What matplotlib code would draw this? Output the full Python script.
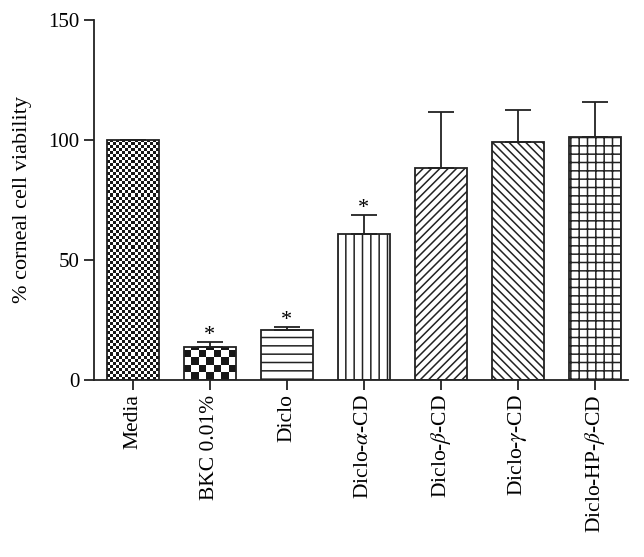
import numpy as np
import matplotlib
import matplotlib.pyplot as plt

plt.rcParams['font.family'] = ['Liberation Serif', 'DejaVu Serif']
plt.rcParams['mathtext.fontset'] = 'stix'
plt.rcParams['hatch.linewidth'] = 1.1

# ---- data
groups = ['Media', 'BKC 0.01%', 'Diclo', r'Diclo-$\alpha$-CD', r'Diclo-$\beta$-CD',
          r'Diclo-$\gamma$-CD', r'Diclo-HP-$\beta$-CD']
viability = [100.0, 13.5, 20.8, 60.8, 88.3, 99.3, 101.1]
sem = [0.0, 2.3, 1.2, 8.0, 23.4, 13.2, 14.6]
signif = [False, True, True, True, False, False, False]
hatches = [None, None, '--', '||', '////', '\\\\\\\\', '++']

fig = plt.figure(figsize=(6.44, 5.57), dpi=100)
ax = fig.add_axes([0.146, 0.318, 0.829, 0.646])

x = np.arange(len(groups))
bars = ax.bar(x, viability, width=0.675, color='white', edgecolor='#222222',
              linewidth=1.3, zorder=2)
for b, h in zip(bars, hatches):
    if h:
        b.set_hatch(h)
    else:
        b.set_facecolor('none')

ax.set_xlim(-0.506, 6.43)
ax.set_ylim(0, 150)

# pixels per data unit, to get square checker cells
ppx = ax.transData.transform((1, 0))[0] - ax.transData.transform((0, 0))[0]
ppy = ax.transData.transform((0, 1))[1] - ax.transData.transform((0, 0))[1]

def checker(bar, ncols):
    bx, by = bar.get_x(), bar.get_y()
    bw, bh = bar.get_width(), bar.get_height()
    cell_w = bw / ncols
    cell_h = cell_w * ppx / ppy
    nrows = int(np.ceil(bh / cell_h))
    img = (np.indices((nrows, ncols)).sum(axis=0) % 2).astype(float)
    im = ax.imshow(img, cmap='gray_r', vmin=0, vmax=1.1, interpolation='nearest',
                   extent=(bx, bx + bw, by, by + nrows * cell_h),
                   origin='lower', aspect='auto', zorder=1.5)
    im.set_clip_path(bar)

checker(bars[0], 17)
checker(bars[1], 7)
ax.set_xlim(-0.506, 6.43)
ax.set_ylim(0, 150)

ax.errorbar(x, viability, yerr=[np.zeros(len(sem)), sem], fmt='none',
            ecolor='#222222', elinewidth=1.3, capsize=9.4, capthick=1.3, zorder=3)

for xi, v, e, s in zip(x, viability, sem, signif):
    if s:
        ax.annotate('*', (xi, v + e), xytext=(0, -2), textcoords='offset points',
                    ha='center', va='bottom', fontsize=16)

ax.set_yticks([0, 50, 100, 150])
ax.set_xticks(x)
ax.set_xticklabels(groups, rotation=90, fontsize=15.5)
ax.tick_params(axis='y', labelsize=15, length=7, width=1.3, color='#222222')
ax.tick_params(axis='x', length=7, width=1.3, color='#222222')
ax.set_ylabel('% corneal cell viability', fontsize=16, labelpad=12)

for sp in ['top', 'right']:
    ax.spines[sp].set_visible(False)
for sp in ['left', 'bottom']:
    ax.spines[sp].set_linewidth(1.3)
    ax.spines[sp].set_color('#222222')

fig.savefig('out.png', dpi=100)
